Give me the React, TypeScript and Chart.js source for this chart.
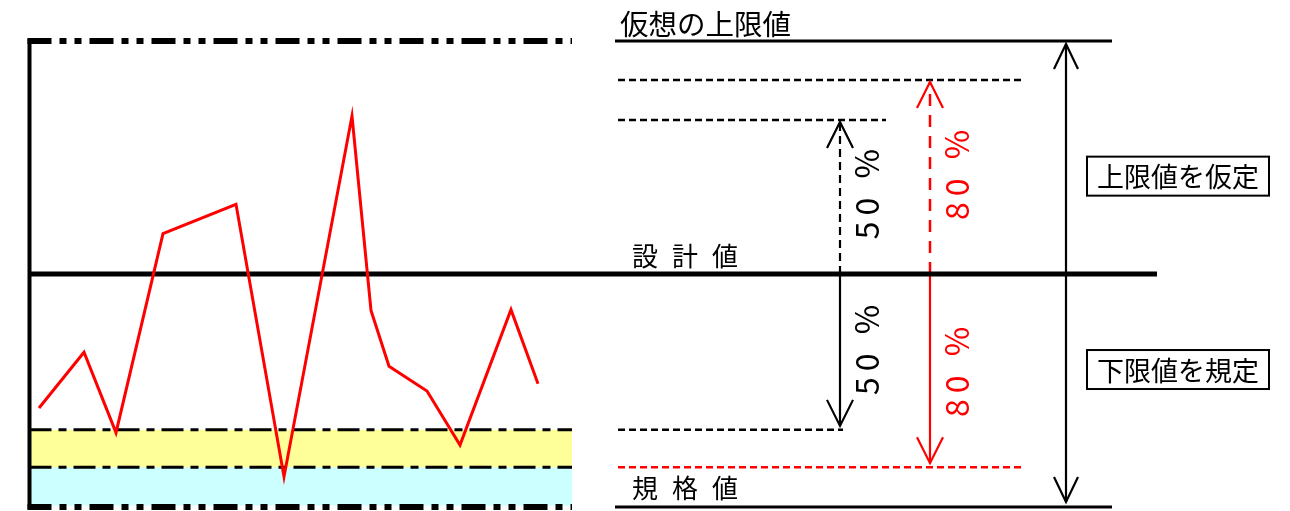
import React, { useEffect, useRef } from "react";
import { Chart, registerables } from "chart.js";

Chart.register(...registerables);

// ---- Data ----
// measured series (x: measurement position, y: deviation from design value)
const sampleX = [3.9, 8.4, 11.6, 16.3, 23.6, 28.4, 35.2, 37.1, 38.9, 42.7, 46.0, 51.1, 53.8];
const sampleY = [-57.5, -33.6, -68.1, 17.3, 29.9, -87.0, 67.8, -15.6, -39.6, -50.2, -73.4, -15.3, -47.1];

// reference levels (design value = 0)
const levelKeys = ["upper", "up80", "up50", "design", "down50", "spec", "lower"];
const levelValues = [100, 83.3, 66.1, 0, -66.9, -82.9, -100];

// texts
const topLabel = "仮想の上限値";
const designLabel = "設計値";
const specLabel = "規格値";
const boxLabels = ["上限値を仮定", "下限値を規定"];
const pctLabels = ["50 %", "80 %"];

const L = (k: string) => levelValues[levelKeys.indexOf(k)];

// ---- layout (x units) ----
const FRAME_L = 2.95;
const FRAME_R = 57.2;
const DESIGN_R = 115.7;
const RIGHT_L = 61.5;
const RIGHT_R = 111.2;
const DASH_L = 61.8;
const ARROW50_X = 84.0;
const ARROW80_X = 93.0;
const ARROW_BIG_X = 106.6;

type Seg = {
  x0: number; x1: number; y0: number; y1: number;
  color?: string; width?: number; dash?: number[]; order?: number;
  fillTo?: number; bg?: string;
};

function seg(s: Seg) {
  return {
    type: "line" as const,
    data: [
      { x: s.x0, y: s.y0 },
      { x: s.x1, y: s.y1 },
    ],
    borderColor: s.color ?? "#000000",
    borderWidth: s.width ?? 2,
    borderDash: s.dash ?? [],
    pointRadius: 0,
    tension: 0,
    order: s.order ?? 2,
    fill: s.fillTo !== undefined ? { value: s.fillTo } : false,
    backgroundColor: s.bg ?? "transparent",
  };
}

const overlay = {
  id: "overlay",
  afterDatasetsDraw(chart: any) {
    const ctx: CanvasRenderingContext2D = chart.ctx;
    const X = (v: number) => chart.scales.x.getPixelForValue(v);
    const Y = (v: number) => chart.scales.y.getPixelForValue(v);

    // arrowheads (open V)
    const head = (x: number, y: number, up: boolean, color: string, w = 13, h = 26, gap = 2) => {
      const px = X(x);
      const py = Y(y) + (up ? gap : -gap);
      ctx.save();
      ctx.strokeStyle = color;
      ctx.lineWidth = 2.2;
      ctx.lineJoin = "miter";
      ctx.beginPath();
      ctx.moveTo(px - w, py + (up ? h : -h));
      ctx.lineTo(px, py);
      ctx.lineTo(px + w, py + (up ? h : -h));
      ctx.stroke();
      ctx.restore();
    };
    head(ARROW50_X, L("up50"), true, "#000000");
    head(ARROW50_X, L("down50"), false, "#000000", 13, 26, 4);
    head(ARROW80_X, L("up80"), true, "#FF0000");
    head(ARROW80_X, L("spec"), false, "#FF0000", 13, 26, 4);
    head(ARROW_BIG_X, L("upper"), true, "#000000", 12, 25, 3);
    head(ARROW_BIG_X, L("lower"), false, "#000000", 12, 25, 5);

    const font = (s: number) => `${s}px "Noto Sans CJK JP", "Noto Sans", sans-serif`;

    // horizontal labels
    ctx.save();
    ctx.fillStyle = "#000000";
    ctx.textAlign = "left";
    ctx.textBaseline = "middle";
    ctx.font = font(28.5);
    ctx.fillText(topLabel, X(62.0), Y(107.3));
    ctx.font = font(26);
    (ctx as any).letterSpacing = "14px";
    ctx.fillText(designLabel, X(63.2), Y(7.7));
    ctx.fillText(specLabel, X(63.2), Y(-91.8));
    (ctx as any).letterSpacing = "0px";
    ctx.restore();

    // boxed labels
    const box = (label: string, yv: number) => {
      const x0 = X(108.7);
      const x1 = X(126.9);
      const cy = Y(yv);
      const h = 39;
      ctx.save();
      ctx.strokeStyle = "#000000";
      ctx.lineWidth = 2;
      ctx.strokeRect(x0, cy - h / 2, x1 - x0, h);
      ctx.fillStyle = "#000000";
      ctx.font = font(27);
      ctx.textAlign = "center";
      ctx.textBaseline = "middle";
      ctx.fillText(label, (x0 + x1) / 2, cy + 1);
      ctx.restore();
    };
    box(boxLabels[0], 42.0);
    box(boxLabels[1], -41.0);

    // rotated percentage labels
    const vtext = (label: string, x: number, yv: number, color: string) => {
      ctx.save();
      ctx.translate(X(x), Y(yv));
      ctx.rotate(-Math.PI / 2);
      ctx.fillStyle = color;
      ctx.font = font(32);
      (ctx as any).letterSpacing = "6px";
      ctx.textAlign = "center";
      ctx.textBaseline = "middle";
      ctx.fillText(label, 3, 0);
      ctx.restore();
    };
    vtext(pctLabels[0], 86.7, 34.3, "#000000");
    vtext(pctLabels[0], 86.7, -32.6, "#000000");
    vtext(pctLabels[1], 95.7, 42.5, "#FF0000");
    vtext(pctLabels[1], 95.7, -42.0, "#FF0000");
  },
};

export default function App() {
  const ref = useRef<HTMLCanvasElement | null>(null);

  useEffect(() => {
    if (!ref.current) return;
    const dashDotDot = [24, 8, 7, 8, 7, 8];
    const dashDot = [22, 7, 8, 7];
    const datasets: any[] = [
      {
        type: "line",
        data: sampleX.map((x, i) => ({ x, y: sampleY[i] })),
        borderColor: "#FF0000",
        borderWidth: 3,
        pointRadius: 0,
        tension: 0,
        fill: false,
        order: 0,
      },
      // bands
      seg({ x0: FRAME_L, x1: FRAME_R, y0: L("down50"), y1: L("down50"), width: 0, fillTo: L("spec"), bg: "#FFFF99", order: 9 }),
      seg({ x0: FRAME_L, x1: FRAME_R, y0: L("spec"), y1: L("spec"), width: 0, fillTo: L("lower") + 0.6, bg: "#CCFFFF", order: 9 }),
      // band borders
      seg({ x0: FRAME_L, x1: FRAME_R, y0: L("down50"), y1: L("down50"), width: 3, dash: dashDot }),
      seg({ x0: FRAME_L, x1: FRAME_R, y0: L("spec"), y1: L("spec"), width: 3, dash: dashDot }),
      // frame
      seg({ x0: FRAME_L - 0.2, x1: FRAME_R, y0: L("upper"), y1: L("upper"), width: 6, dash: dashDotDot }),
      seg({ x0: FRAME_L - 0.2, x1: FRAME_R, y0: L("lower"), y1: L("lower"), width: 6, dash: dashDotDot }),
      seg({ x0: FRAME_L, x1: FRAME_L, y0: L("upper") + 1, y1: L("lower") - 1, width: 4 }),
      // design value line
      seg({ x0: FRAME_L, x1: DESIGN_R, y0: L("design"), y1: L("design"), width: 5 }),
      // right side solid limits
      seg({ x0: RIGHT_L, x1: RIGHT_R, y0: L("upper"), y1: L("upper"), width: 3 }),
      seg({ x0: RIGHT_L, x1: RIGHT_R, y0: L("lower"), y1: L("lower"), width: 3 }),
      // right side dashed levels
      seg({ x0: DASH_L, x1: 102.5, y0: L("up80"), y1: L("up80"), width: 2.5, dash: [7, 4] }),
      seg({ x0: DASH_L, x1: 88.6, y0: L("up50"), y1: L("up50"), width: 2.5, dash: [7, 4] }),
      seg({ x0: DASH_L, x1: 84.3, y0: L("down50"), y1: L("down50"), width: 2.5, dash: [7, 4] }),
      seg({ x0: DASH_L, x1: 102.5, y0: L("spec"), y1: L("spec"), width: 2.5, dash: [7, 4], color: "#FF0000" }),
      // arrow shafts
      seg({ x0: ARROW50_X, x1: ARROW50_X, y0: L("design"), y1: L("up50") - 0.8, width: 2.2, dash: [8, 5] }),
      seg({ x0: ARROW50_X, x1: ARROW50_X, y0: L("design"), y1: L("down50") + 1.7, width: 2.2 }),
      seg({ x0: ARROW80_X, x1: ARROW80_X, y0: L("design"), y1: L("up80") - 0.8, width: 2.5, dash: [12, 9], color: "#FF0000" }),
      seg({ x0: ARROW80_X, x1: ARROW80_X, y0: L("design"), y1: L("spec") + 1.7, width: 2.2, color: "#FF0000" }),
      seg({ x0: ARROW_BIG_X, x1: ARROW_BIG_X, y0: L("upper") - 1.3, y1: L("lower") + 2.1, width: 2.2 }),
    ];

    const chart = new Chart(ref.current, {
      type: "line",
      data: { datasets },
      options: {
        animation: false,
        responsive: false,
        devicePixelRatio: 1,
        layout: { padding: 0 },
        scales: {
          x: { type: "linear", min: 0, max: 129, display: false },
          y: { type: "linear", min: -101.72, max: 117.6, display: false },
        },
        plugins: {
          legend: { display: false },
          tooltip: { enabled: false },
        },
      },
      plugins: [overlay],
    });
    return () => chart.destroy();
  }, []);

  return (
    <canvas
      ref={ref}
      width={1290}
      height={511}
      style={{ position: "absolute", left: 0, top: 0, display: "block", background: "#ffffff" }}
    />
  );
}
